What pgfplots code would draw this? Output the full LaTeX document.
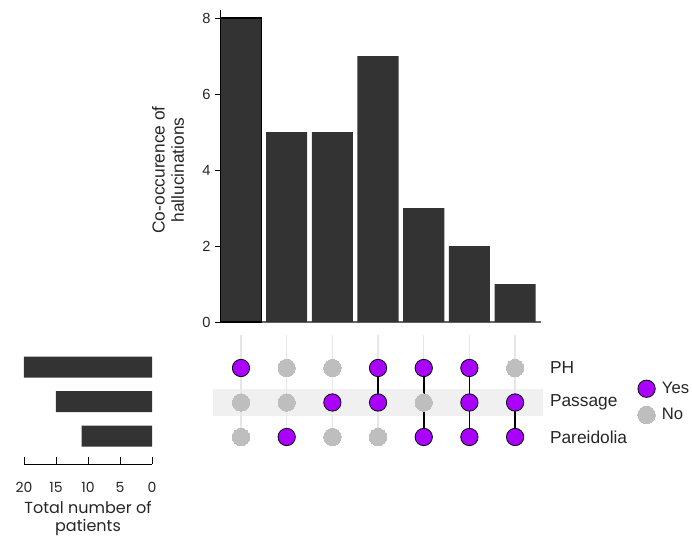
\documentclass[border=0pt]{standalone}
\usepackage{fontspec}
\setmainfont{Liberation Sans}
\newfontfamily\pop{Poppins}
\usepackage{pgfplots}
\pgfplotsset{compat=1.18}
\definecolor{barc}{HTML}{333333}
\definecolor{yesc}{HTML}{AA00FF}
\definecolor{noc}{HTML}{BEBEBE}
\definecolor{bandc}{HTML}{F0F0F0}
\definecolor{gridc}{HTML}{E6E6E6}
\begin{document}
\begin{tikzpicture}
\useasboundingbox (0pt,0pt) rectangle (519pt,-403.5pt);
% ---------------- top bar chart ----------------
\begin{axis}[at={(165pt,-241.5pt)}, anchor=south west, scale only axis,
  width=240.5pt, height=233.7pt,
  xmin=-0.46, xmax=6.56, ymin=0, ymax=8.2,
  axis x line=bottom, axis y line=left, axis line style={-},
  x axis line style={draw=black!60, line width=0.8pt},
  y axis line style={draw=black, line width=0.6pt},
  xtick=\empty, ytick={0,2,4,6,8}, tick align=outside, major tick length=3.5pt,
  ytick style={black, line width=0.6pt},
  /pgf/number format/assume math mode=true,
  ticklabel style={font=\fontsize{11}{13}\selectfont, text=black!85},
  ylabel={Co-occurence of\\hallucinations},
  ylabel style={align=center, font=\fontsize{13}{14.5}\selectfont, text=black!85,
    at={(axis description cs:-0.162,0.488)}, anchor=center},
  clip=false]
\addplot[ybar, bar width=0.9, bar shift=0pt, fill=barc, draw=none]
  coordinates {(1,5) (2,5) (3,7) (4,3) (5,2) (6,1)};
\addplot[ybar, bar width=0.9, bar shift=0pt, fill=barc, draw=black, line width=1.2pt]
  coordinates {(0,8)};
\end{axis}
% ---------------- matrix ----------------
\begin{axis}[at={(165pt,-335.51pt)}, anchor=south west, scale only axis,
  width=240.5pt, height=85.4pt,
  xmin=-0.46, xmax=6.56, ymin=0.7, ymax=4.0, clip=false,
  axis x line=none, axis y line*=right, y axis line style={draw=none},
  ytick={1,2,3}, yticklabels={Pareidolia,Passage,PH}, ytick style={draw=none},
  yticklabel style={font=\fontsize{13}{15}\selectfont, text=black!85, anchor=west, xshift=3.5pt},
  legend style={draw=none, fill=none, at={(1.29,0.40)}, anchor=west,
    font=\fontsize{12.5}{14}\selectfont, text=black!85, row sep=5.5pt},
  legend cell align=left]
\fill[bandc] (axis cs:-0.613,1.62) rectangle (axis cs:6.6,2.38);
\pgfplotsinvokeforeach{0,...,6}{
  \addplot[gridc, line width=1pt, forget plot] coordinates {(#1,1) (#1,3.95)};
}
\addplot[only marks, mark=*, mark size=6.5pt, draw=black, fill=yesc,
  mark options={fill=yesc, draw=black, line width=0.6pt}]
  coordinates {(0,3) (3,3) (4,3) (5,3) (2,2) (3,2) (5,2) (6,2) (1,1) (4,1) (5,1) (6,1)};
\addlegendentry{\hspace{3pt}Yes}
\addplot[only marks, mark=*, mark size=6.5pt, color=noc,
  mark options={fill=noc, draw=noc, line width=0pt}]
  coordinates {(1,3) (2,3) (6,3) (0,2) (1,2) (4,2) (0,1) (2,1) (3,1)};
\addlegendentry{\hspace{3pt}No}
\addplot[black, line width=1.2pt, forget plot] coordinates {(3,3) (3,2)};
\addplot[black, line width=1.2pt, forget plot] coordinates {(4,3) (4,1)};
\addplot[black, line width=1.2pt, forget plot] coordinates {(5,3) (5,1)};
\addplot[black, line width=1.2pt, forget plot] coordinates {(6,2) (6,1)};
\end{axis}
% ---------------- left totals ----------------
\begin{axis}[at={(114pt,-348pt)}, anchor=south east, scale only axis,
  width=96pt, height=85.6pt,
  xmin=0, xmax=20, x dir=reverse, ymin=0.19, ymax=3.5,
  axis x line=bottom, axis y line=none, axis line style={-, black, line width=0.6pt},
  xtick={0,5,10,15,20}, ytick=\empty, tick align=inside, major tick length=5pt,
  tick style={black, line width=0.6pt},
  /pgf/number format/assume math mode=true,
  xticklabel style={font=\pop\fontsize{10.5}{12}\selectfont, text=black!85, yshift=-10pt},
  xlabel={Total number of\\patients},
  xlabel style={align=center, font=\pop\fontsize{12}{13.5}\selectfont, text=black!85,
    at={(axis description cs:0.5,-0.48)}, anchor=center},
  clip=false]
\addplot[xbar, bar width=0.61, bar shift=0pt, fill=barc, draw=none]
  coordinates {(20,3) (15,2) (11,1)};
\end{axis}
\end{tikzpicture}
\end{document}
